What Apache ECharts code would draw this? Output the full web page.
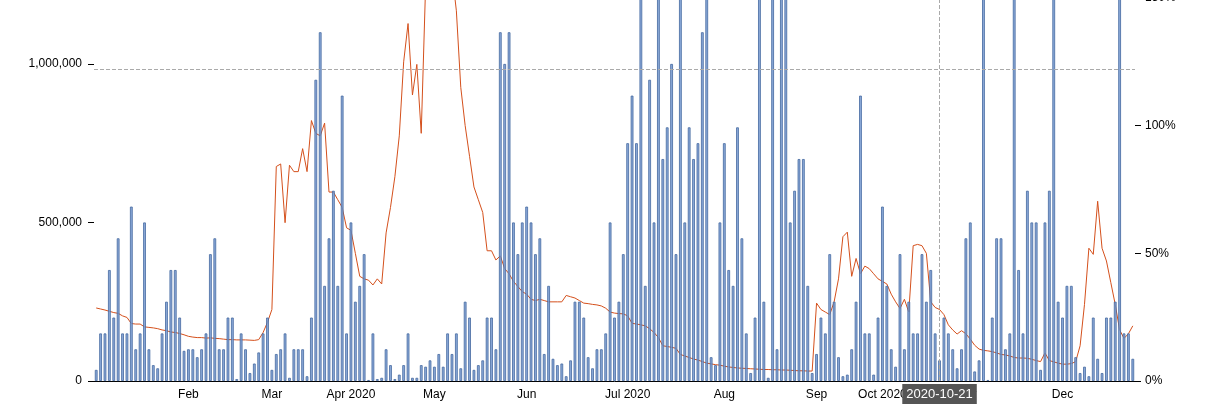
<!DOCTYPE html>
<html><head><meta charset="utf-8">
<script src="https://cdn.jsdelivr.net/npm/echarts@6/dist/echarts.min.js"></script>
<style>html,body{margin:0;padding:0;background:#fff}#c{width:1227px;height:409px}</style>
</head><body><div id="c"></div>
<script>
// bar values (thousands) per month, in order of bars
const volJan=[35,150,150,350,200,450,150,150,550,100,150,500,100,50,40,150,250,350,350,200,95];
const volFeb=[100,100,75,100,150,400,450,100,100,200,200,6,150,100,25,55,90,150,200];
const volMar=[35,85,100,150,10,100,100,100,15,200,950,1100,300,450,600,300,900,150];
const volApr=[500,250,300,400,3,150,6,10,100,50,6,20,50,150,10,10,50,45,65];
const volMay=[45,85,45,150,85,150,40,250,200,35,50,65,200,200,100,1100,1000,1100,500,400,500];
const volJun=[550,500,400,450,85,300,70,50,55,15,65,250,250,200,75,40,100,100,150,500,200,250,400];
const volJul=[750,900,750,1400,300,950,500,1300,700,800,1000,400,1500,500,800,700,750,1100,1350,75,50,500];
const volAug=[750,350,300,800,450,150,25,200,1400,250,10,1300,100,1450,1350,500,600,700,700,300,25];
const volSep=[85,200,150,400,250,75,15,20,100,250,900,150,150,20,200];
const volOct=[550,300,100,45,400,100,250,150,150,400,250,350,150,65,200,150,100,40,100];
const volNov=[450,500,30,65,1400,3,200,450,450,100,150,1350,350,150,600,500,500,35,500,600,1400,250];
const volDec=[200,300,300,75,25,45,15,200,70,25,200,200,250,1450,150,150,70];
// line values (%)
const pctJan=[28.6,28.2,27.8,27.3,26.8,26.5,25.5,24.9,22.5,22.3,22.3,21.2,21,20.8,20.5,20,19.7,19.2,19,18.6,18.1];
const pctFeb=[17.5,17.2,17,17,16.8,16.9,16.7,16.6,16.4,16.2,16.2,16.1,16.1,16.1,16.0,15.9,16.2,19,23];
const pctMar=[28,84,85,62,84.5,82,82,91,82,102,97,96,101,74,74,71,68,60];
const pctApr=[59,50,41,40,39.5,37.6,40,38,58,68,80,96,125,140,112,124,97,155,170];
const pctMay=[165,180,185,175,160,145,115,100,88,76,71,66,51,51,47.4,49,44,42,39,37,35];
const pctJun=[34,32,31.5,32,31.5,31,31,31,31,33.5,33,32.5,31.5,30.5,30.3,30,29.8,29.4,28.5,27,26.6,26.4,26.3];
const pctJul=[25.5,22.6,22.3,22,21.6,20.5,19,17,13.8,13.5,13.2,12.8,10.4,9.8,9.2,8.6,8.2,7.6,7,6.7,6.4,6.2];
const pctAug=[5.8,5.5,5.3,5.1,5,4.9,4.8,4.7,4.6,4.5,4.5,4.4,4.4,4.3,4.3,4.2,4.1,4,4,3.9,3.9];
const pctSep=[30.5,28,27,26,31,40,56.5,58.3,41,48,42,45,44,42,40];
const pctOct=[39,38,34,31,28.4,32,27,53,53.5,53,50,31,28.8,28,26,22,20,18.4,19.7];
const pctNov=[18.5,16.4,14,12.5,12,11.8,11.5,11,10.4,10.2,9.8,9.2,9,9,8.9,8.5,8,7.6,11,8,7.5,7];
const pctDec=[6.6,6.6,6.8,7.6,13.8,30,52,49.6,70.4,52,47,38.5,30,20,16.7,18.5,21.6];
const monthNames=['Jan','Feb','Mar','Apr','May','Jun','Jul','Aug','Sep','Oct','Nov','Dec'];
const holidays=['2020-01-01','2020-01-20','2020-02-17','2020-04-10','2020-05-25','2020-07-03','2020-09-07','2020-10-12','2020-11-11','2020-11-26'];
const pointerDate='2020-10-21';
const pointerLevel=984000;

const vols=[volJan,volFeb,volMar,volApr,volMay,volJun,volJul,volAug,volSep,volOct,volNov,volDec];
const pcts=[pctJan,pctFeb,pctMar,pctApr,pctMay,pctJun,pctJul,pctAug,pctSep,pctOct,pctNov,pctDec];
const pad=n=>String(n).padStart(2,'0');
const dates=[],volume=[],pct=[];
vols.forEach((arr,m)=>{
  const nd=new Date(2020,m+1,0).getDate();
  let cand=[];
  for(let d=1;d<=nd;d++){const wd=new Date(2020,m,d).getDay();const s=`2020-${pad(m+1)}-${pad(d)}`;
    if(wd!==0&&wd!==6&&!holidays.includes(s))cand.push(s);}
  if(cand.length<arr.length){cand=[];for(let d=1;d<=nd;d++)cand.push(`2020-${pad(m+1)}-${pad(d)}`);}
  arr.forEach((v,i)=>{dates.push(cand[i]);volume.push(v*1000);pct.push(pcts[m][i]);});
});
const isMonthStart=i=>i>0&&dates[i].slice(5,7)!==dates[i-1].slice(5,7);
const chart=echarts.init(document.getElementById('c'));
chart.setOption({
  animation:false,
  grid:{left:94,right:92,top:-2,bottom:28,outerBoundsMode:'none',containLabel:false},
  xAxis:{type:'category',data:dates,boundaryGap:true,
    axisLine:{lineStyle:{color:'#000'}},
    axisTick:{interval:isMonthStart,length:5,lineStyle:{color:'#000'}},
    axisLabel:{interval:isMonthStart,color:'#000',fontSize:12,fontFamily:'Helvetica, Arial, sans-serif',
      formatter:v=>{const m=+v.slice(5,7);return [4,7,10].includes(m)?monthNames[m-1]+' 2020':monthNames[m-1];}},
    axisPointer:{show:true,value:pointerDate,status:'show',type:'line',triggerTooltip:false,
      lineStyle:{color:'#aaa',type:'dashed',width:1},
      label:{show:true,backgroundColor:'#555',color:'#fff',fontSize:13,padding:[4,4,3,4],borderRadius:0,
        fontFamily:'Helvetica, Arial, sans-serif',formatter:p=>p.value}}},
  yAxis:[
    {type:'value',min:0,max:1208000,interval:500000,splitLine:{show:false},
     axisLine:{show:false},axisTick:{show:true,length:6,lineStyle:{color:'#000'}},
     axisLabel:{color:'#000',fontSize:12,margin:12,showMaxLabel:false,fontFamily:'Helvetica, Arial, sans-serif',
       formatter:v=>v.toLocaleString('en-US')},
     axisPointer:{show:true,value:pointerLevel,status:'show',type:'line',triggerTooltip:false,
       lineStyle:{color:'#aaa',type:'dashed',width:1},label:{show:false}}},
    {type:'value',min:0,max:150,interval:50,splitLine:{show:false},
     axisLine:{show:false},axisTick:{show:true,length:6,lineStyle:{color:'#000'}},
     axisLabel:{color:'#000',fontSize:12,margin:10,formatter:'{value}%',fontFamily:'Helvetica, Arial, sans-serif'}}
  ],
  series:[
    {type:'line',yAxisIndex:1,data:pct,symbol:'none',z:1,lineStyle:{color:'#d4501c',width:1}},
    {type:'bar',yAxisIndex:0,data:volume,barWidth:'62%',z:2,
     itemStyle:{color:'rgba(120,155,210,0.85)',borderColor:'#44689f',borderWidth:0.8}}
  ]
});
</script></body></html>
